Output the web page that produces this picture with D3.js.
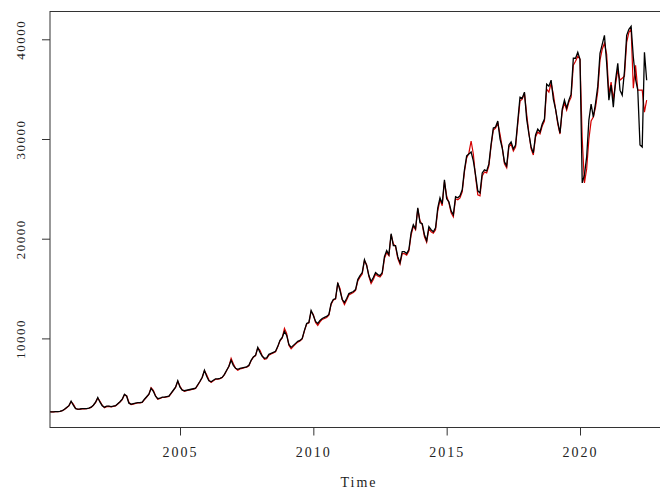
<!DOCTYPE html>
<html>
<head>
<meta charset="utf-8">
<script src="https://d3js.org/d3.v7.min.js"></script>
<style>
  body { margin: 0; background: #fff; }
  text { font-family: "Liberation Serif", "DejaVu Serif", serif; fill: #222; }
</style>
</head>
<body>
<svg id="vis"></svg>

<script>
  // monthly series, first value = Jan 2000
  var startYear = 2000;

  // black line (observed)
  var seriesBlack = [
    2650, 2650, 2640, 2640, 2650, 2660, 2680, 2750, 2900, 3080, 3250, 3700,
    3300, 2950, 2900, 2920, 2950, 2950, 2960, 3000, 3100, 3300, 3600, 4080,
    3600, 3250, 3100, 3200, 3200, 3150, 3200, 3250, 3450, 3650, 3900, 4400,
    4200, 3500, 3400, 3450, 3500, 3550, 3550, 3600, 3900, 4150, 4400, 5000,
    4700, 4200, 3950, 4000, 4100, 4100, 4150, 4200, 4500, 4800, 5100, 5750,
    5100, 4800, 4750, 4800, 4850, 4900, 4950, 5000, 5350, 5700, 6100, 6800,
    6200, 5750, 5650, 5800, 5950, 5950, 6000, 6100, 6400, 6800, 7200, 7800,
    7300, 7000, 6900, 7000, 7050, 7100, 7150, 7300, 7800, 8150, 8300, 9100,
    8600, 8200, 8000, 8050, 8400, 8500, 8600, 8700, 9200, 9800, 10100, 10700,
    10300, 9400, 9100, 9300, 9500, 9700, 9800, 10000, 10800, 11500, 11600, 12800,
    12300, 11700, 11500, 11800, 12000, 12100, 12200, 12400, 13500, 13900, 14000, 15600,
    14800, 13900, 13600, 14000, 14500, 14600, 14700, 14900, 15900, 16300, 16600, 17900,
    17300, 16300, 15700, 16100, 16600, 16400, 16300, 16600, 18200, 18800, 18400, 20500,
    19300, 19300, 18200, 17600, 18700, 18700, 18500, 18900, 20600, 21400, 21000, 23100,
    21600, 21500, 20400, 19800, 21200, 20900, 20700, 21100, 23100, 24100, 23500, 25900,
    24000, 23700, 22800, 22400, 24200, 24100, 24300, 24900, 26900, 28300, 28500, 28700,
    27800, 26400, 24800, 24600, 26600, 26900, 26800, 27500, 29500, 31100, 31200, 31800,
    30000, 29100, 27700, 27300, 29400, 29700, 29000, 29400, 31800, 34200, 34100, 34700,
    32000, 30500, 29200, 28600, 30400, 31000, 30700, 31500, 32000, 35500, 35300, 35900,
    34000, 33000, 31700, 30600, 33000, 33900, 33100, 33900, 34500, 38100, 38100, 38700,
    38000, 25600, 26400, 28200, 31900, 33500, 32200, 33600, 35300, 38600, 39500, 40400,
    37600, 33900, 35400, 33200, 35900, 37600, 34900, 34400, 36800, 40400, 41000, 41300,
    38200, 36000, 34900, 29400, 29200, 38700, 35900
  ];

  // red line (fitted)
  var seriesRed = [
    2650, 2650, 2640, 2640, 2650, 2660, 2680, 2740, 2880, 3050, 3230, 3650,
    3400, 2980, 2870, 2900, 2930, 2940, 2950, 2990, 3080, 3280, 3560, 4000,
    3700, 3300, 3050, 3150, 3180, 3140, 3180, 3230, 3420, 3620, 3860, 4350,
    4250, 3600, 3350, 3400, 3480, 3520, 3530, 3580, 3870, 4120, 4380, 5050,
    4800, 4250, 3900, 3970, 4070, 4080, 4130, 4180, 4470, 4780, 5080, 5700,
    5200, 4850, 4700, 4760, 4820, 4870, 4920, 4980, 5320, 5680, 6080, 6750,
    6350, 5850, 5580, 5740, 5900, 5920, 5970, 6070, 6370, 6780, 7180, 8000,
    7450, 7000, 6800, 6930, 7000, 7060, 7120, 7260, 7760, 8120, 8280, 9050,
    8800, 8250, 7900, 7950, 8320, 8440, 8550, 8650, 9150, 9750, 10050, 11000,
    10500, 9300, 8950, 9200, 9420, 9630, 9740, 9950, 10750, 11450, 11550, 12700,
    12400, 11600, 11300, 11650, 11900, 12000, 12100, 12320, 13400, 13850, 13950, 15500,
    15000, 13900, 13400, 13850, 14350, 14480, 14600, 14800, 15750, 16150, 16450, 17800,
    17400, 16200, 15500, 15900, 16450, 16250, 16150, 16450, 18000, 18600, 18300, 20400,
    19500, 19200, 18000, 17450, 18500, 18500, 18350, 18750, 20350, 21250, 20900, 23000,
    21800, 21400, 20200, 19650, 21000, 20700, 20550, 20900, 22800, 23900, 23300, 25700,
    24300, 23600, 22600, 22200, 24000, 23900, 24100, 24700, 26700, 28100, 28600, 29800,
    28500, 26200, 24400, 24300, 26300, 26700, 26600, 27300, 29300, 30900, 31100, 31600,
    30500, 29200, 27500, 27100, 29200, 29500, 28800, 29200, 31500, 33800, 34000, 34600,
    32500, 30600, 29000, 28400, 30200, 30700, 30500, 31300, 31800, 35000, 34700, 35600,
    34500, 33000, 31500, 30500, 32800, 33600, 32900, 33700, 34200, 37400, 37800, 38300,
    38000, 30000, 25600, 27000, 30000, 31800, 32200, 33200, 34800, 37900, 39000, 39600,
    38500, 34500, 35700, 34000, 35500, 36900, 35900, 36100, 36300, 39700, 40700, 41000,
    35100, 37400, 34900, 34900, 34900, 32700, 33900
  ];

  var xTicks = [2005, 2010, 2015, 2020];
  var yTicks = [10000, 20000, 30000, 40000];

  var width = 660, height = 490;
  // plot region (right edge runs past the window, as in the original)
  var plotL = 50, plotR = 668, plotT = 11.5, plotB = 427.5;

  var svg = d3.select("#vis")
      .attr("width", width)
      .attr("height", height);

  svg.append("rect")
      .attr("width", width).attr("height", height)
      .attr("fill", "#fff");

  var xScale = d3.scaleLinear()
      .domain([2000.125, 2023.3])
      .range([plotL, plotR]);

  var yScale = d3.scaleLinear()
      .domain([0, 40000])
      .range([438.1, 39.3]);

  function toPoints(arr) {
    return arr.map(function(v, i) { return [startYear + i / 12, v]; });
  }

  svg.append("clipPath").attr("id", "plotclip")
    .append("rect")
      .attr("x", plotL).attr("y", plotT)
      .attr("width", plotR - plotL).attr("height", plotB - plotT);

  var line = d3.line()
      .x(function(d) { return xScale(d[0]); })
      .y(function(d) { return yScale(d[1]); });

  var plot = svg.append("g").attr("clip-path", "url(#plotclip)");

  plot.append("path")
      .datum(toPoints(seriesRed))
      .attr("d", line)
      .attr("fill", "none")
      .attr("stroke", "#d40000")
      .attr("stroke-width", 1.2);

  plot.append("path")
      .datum(toPoints(seriesBlack))
      .attr("d", line)
      .attr("fill", "none")
      .attr("stroke", "#000")
      .attr("stroke-width", 1.3);

  // box
  svg.append("rect")
      .attr("x", plotL).attr("y", plotT)
      .attr("width", plotR - plotL).attr("height", plotB - plotT)
      .attr("fill", "none")
      .attr("stroke", "#333")
      .attr("stroke-width", 1);

  // x axis
  var xAxis = d3.axisBottom(xScale)
      .tickValues(xTicks)
      .tickSize(8)
      .tickPadding(12)
      .tickFormat(d3.format("d"));

  var gx = svg.append("g")
      .attr("transform", "translate(0," + plotB + ")")
      .call(xAxis);
  gx.select(".domain").remove();
  gx.selectAll("line").attr("stroke", "#333");
  gx.selectAll("text")
      .attr("font-size", 14)
      .attr("letter-spacing", "2px")
      .attr("fill", "#222");

  // y axis
  var yAxis = d3.axisLeft(yScale)
      .tickValues(yTicks)
      .tickSize(8)
      .tickFormat(d3.format("d"));

  var gy = svg.append("g")
      .attr("transform", "translate(" + plotL + ",0)")
      .call(yAxis);
  gy.select(".domain").remove();
  gy.selectAll("line").attr("stroke", "#333");
  gy.selectAll("text")
      .attr("x", null).attr("dy", null)
      .attr("text-anchor", "middle")
      .attr("transform", "translate(-25,0) rotate(-90)")
      .attr("font-size", 13)
      .attr("letter-spacing", "1.5px")
      .attr("fill", "#222");

  svg.append("text")
      .attr("x", (plotL + plotR) / 2)
      .attr("y", 487)
      .attr("text-anchor", "middle")
      .attr("font-size", 14)
      .attr("letter-spacing", "2px")
      .text("Time");
</script>
</body>
</html>
